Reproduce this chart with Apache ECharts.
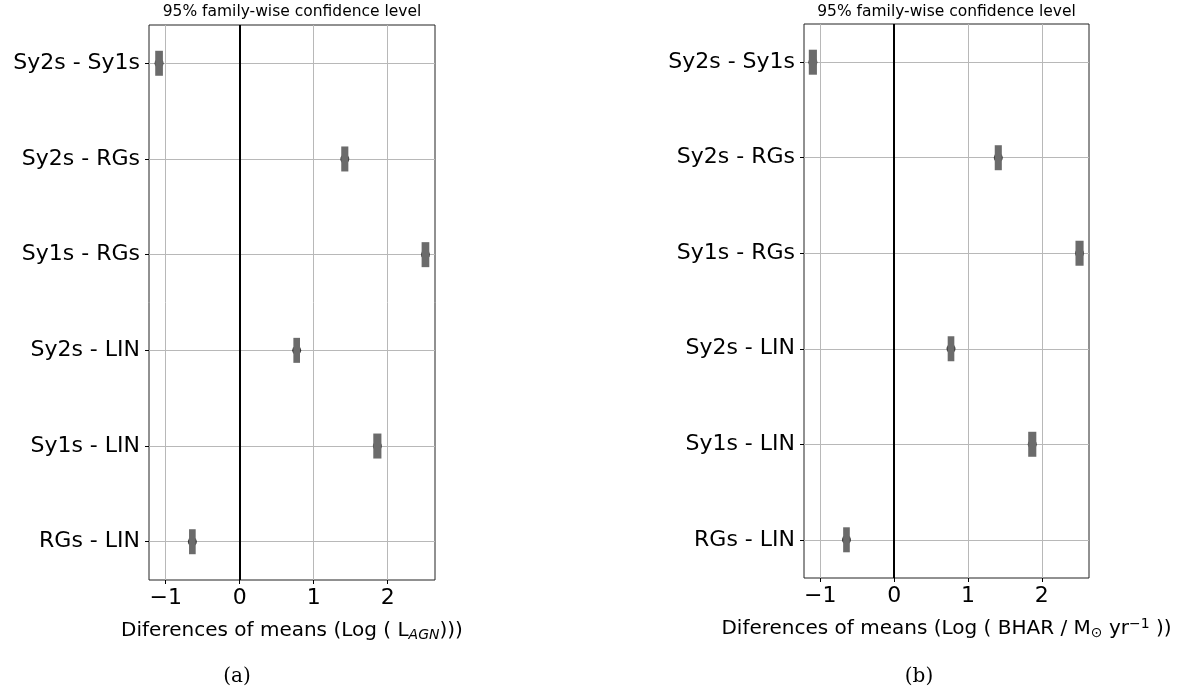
<!DOCTYPE html>
<html><head><meta charset="utf-8">
<script src="https://cdn.jsdelivr.net/npm/echarts@6/dist/echarts.min.js"></script>
<style>html,body{margin:0;padding:0;background:#fff}#c{width:1191px;height:693px}</style>
</head><body><div id="c"></div>
<script>
const categories = ['Sy2s - Sy1s','Sy2s - RGs','Sy1s - RGs','Sy2s - LIN','Sy1s - LIN','RGs - LIN'];
const meansA = [-1.09, 1.42, 2.51, 0.77, 1.86, -0.64];
const halfA  = [0.052, 0.048, 0.052, 0.045, 0.055, 0.045];
const meansB = [-1.10, 1.41, 2.51, 0.77, 1.87, -0.645];
const halfB  = [0.055, 0.048, 0.055, 0.045, 0.055, 0.045];
const xTicks = [-1, 0, 1, 2];
const yTicks = [0, 1, 2, 3, 4, 5];
const titleText = '95% family-wise confidence level';
const captions = ['(a)', '(b)'];

const FONT = 'DejaVu Sans';
const chart = echarts.init(document.getElementById('c'), null, {renderer: 'canvas'});

const grids = [
  {left: 149, top: 25, width: 286, height: 555},
  {left: 804, top: 24, width: 285, height: 554}
];
const xRanges = [[-1.226, 2.639], [-1.22, 2.638]];

function xAxisCfg(i, name, rich) {
  return {
    type: 'value', gridIndex: i, min: xRanges[i][0], max: xRanges[i][1],
    axisLine: {show: false, onZero: false},
    axisTick: {show: true, length: 4, lineStyle: {color: '#000', width: 1}, customValues: xTicks},
    axisLabel: {show: true, fontFamily: FONT, fontSize: 22, color: '#000', margin: 7,
      customValues: xTicks, formatter: v => String(v).replace('-', '\u2212')},
    splitLine: {show: true, lineStyle: {color: '#b8b8b8', width: 1}},
    name: name, nameLocation: 'middle', nameGap: 38,
    nameTextStyle: {fontFamily: FONT, fontSize: 20, color: '#000', rich: rich}
  };
}
function yAxisCfg(i) {
  return {
    type: 'value', gridIndex: i, min: -0.4, max: 5.4, inverse: true,
    axisLine: {show: false, onZero: false},
    axisTick: {show: true, length: 4, lineStyle: {color: '#000', width: 1}, customValues: yTicks},
    axisLabel: {show: true, fontFamily: FONT, fontSize: 22, color: '#000', margin: 9,
      customValues: yTicks, formatter: v => categories[Math.round(v)]},
    splitLine: {show: true, lineStyle: {color: '#b8b8b8', width: 1}}
  };
}

const richA = {
  m: {fontFamily: FONT, fontSize: 20, color: '#000', lineHeight: 26},
  s: {fontFamily: FONT, fontSize: 14, fontStyle: 'italic', color: '#000', lineHeight: 26, padding: [9, 0, 0, 0]}
};
const richB = {
  m: {fontFamily: FONT, fontSize: 20, color: '#000', lineHeight: 26},
  s: {fontFamily: FONT, fontSize: 14, color: '#000', lineHeight: 26, padding: [9, 0, 0, 0]},
  u: {fontFamily: FONT, fontSize: 14, color: '#000', lineHeight: 26, padding: [0, 0, 9, 0]}
};
const nameA = '{m|Diferences of means (Log ( L}{s|AGN}{m|)))}';
const nameB = '{m|Diferences of means (Log ( BHAR / M}{s|\u2299}{m| yr}{u|\u22121}{m| ))}';

function seriesFor(i, means, half) {
  const boxes = means.map((m, k) => [m - half[k], m + half[k], k]);
  const pts = means.map((m, k) => [m, k]);
  return [
    {
      type: 'custom', xAxisIndex: i, yAxisIndex: i, silent: true, z: 6,
      data: boxes, encode: {x: [0, 1], y: 2},
      renderItem: function (params, api) {
        const p1 = api.coord([api.value(0), api.value(2)]);
        const p2 = api.coord([api.value(1), api.value(2)]);
        return {type: 'rect', shape: {x: p1[0], y: p1[1] - 12.5, width: p2[0] - p1[0], height: 25},
          style: {fill: '#6b6b6b'}};
      }
    },
    {
      type: 'scatter', xAxisIndex: i, yAxisIndex: i, silent: true, z: 5,
      symbol: 'circle', symbolSize: 9, itemStyle: {color: '#111'},
      data: pts,
      markLine: {silent: true, symbol: 'none', label: {show: false},
        lineStyle: {color: '#000', width: 2, type: 'solid'},
        data: [{xAxis: 0}]}
    }
  ];
}

const centers = grids.map(g => g.left + g.width / 2);

chart.setOption({
  animation: false,
  backgroundColor: '#fff',
  grid: grids.map(g => Object.assign({show: true, borderColor: '#222', borderWidth: 1, backgroundColor: 'transparent'}, g)),
  xAxis: [xAxisCfg(0, nameA, richA), xAxisCfg(1, nameB, richB)],
  yAxis: [yAxisCfg(0), yAxisCfg(1)],
  series: [].concat(seriesFor(0, meansA, halfA), seriesFor(1, meansB, halfB)),
  graphic: [
    {type: 'text', position: [centers[0], 12], style: {text: titleText, fontFamily: FONT, fontSize: 15.5, fill: '#000', textAlign: 'center', textVerticalAlign: 'middle'}},
    {type: 'text', position: [centers[1], 12], style: {text: titleText, fontFamily: FONT, fontSize: 15.5, fill: '#000', textAlign: 'center', textVerticalAlign: 'middle'}},
    {type: 'text', position: [237, 677], style: {text: captions[0], fontFamily: 'DejaVu Serif', fontSize: 20, fill: '#000', textAlign: 'center', textVerticalAlign: 'middle'}},
    {type: 'text', position: [919, 677], style: {text: captions[1], fontFamily: 'DejaVu Serif', fontSize: 20, fill: '#000', textAlign: 'center', textVerticalAlign: 'middle'}}
  ]
});
</script></body></html>
